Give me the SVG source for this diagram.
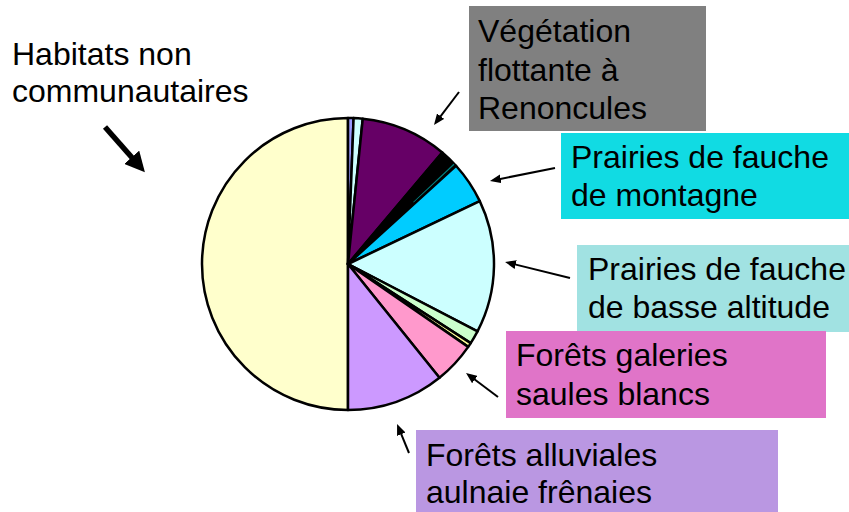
<svg xmlns="http://www.w3.org/2000/svg" width="849" height="512" viewBox="0 0 849 512">
<style>
.lbl{font-family:"Liberation Sans",Arial,sans-serif;font-size:32px;fill:#000}
.s{stroke:#000;stroke-width:2.5;stroke-linejoin:round}
.ar{stroke:#000;stroke-width:2;fill:none}
</style>
<defs>
<marker id="ah" markerUnits="userSpaceOnUse" markerWidth="12" markerHeight="9" refX="3" refY="4.5" orient="auto">
<path d="M0,0 L11,4.5 L0,9 z" fill="#000"/>
</marker>
<marker id="bh" markerUnits="userSpaceOnUse" markerWidth="21" markerHeight="20" refX="5" refY="10" orient="auto">
<path d="M0,0 L20,10 L0,20 z" fill="#000"/>
</marker>
</defs>
<rect width="849" height="512" fill="#fff"/>
<g id="pie">
<path class="s" fill="#FFFFCC" d="M348,264 L348,410 A146,146 0 0 1 348,118 Z"/>
<path class="s" fill="#9999FF" d="M348,264 L348,118 A146,146 0 0 1 353.60,118.11 Z"/>
<path class="s" fill="#CCFFFF" d="M348,264 L353.60,118.11 A146,146 0 0 1 362.75,118.75 Z"/>
<path class="s" fill="#660066" d="M348,264 L362.75,118.75 A146,146 0 0 1 442.24,152.49 Z"/>
<path class="s" fill="#000000" d="M348,264 L442.24,152.49 A146,146 0 0 1 455.99,165.74 Z"/>
<line x1="413.55" y1="202.33" x2="454.0" y2="164.3" stroke="#008080" stroke-width="1.2"/>
<path class="s" fill="#00CCFF" d="M348,264 L455.99,165.74 A146,146 0 0 1 479.78,201.15 Z"/>
<path class="s" fill="#CCFFFF" d="M348,264 L479.78,201.15 A146,146 0 0 1 477.50,331.42 Z"/>
<path class="s" fill="#CCFFCC" d="M348,264 L477.50,331.42 A146,146 0 0 1 470.70,343.13 Z"/>
<path class="s" fill="#FFFF99" d="M348,264 L470.70,343.13 A146,146 0 0 1 468.18,346.90 Z"/>
<path class="s" fill="#FF99CC" d="M348,264 L468.18,346.90 A146,146 0 0 1 439.48,377.78 Z"/>
<path class="s" fill="#CC99FF" d="M348,264 L439.48,377.78 A146,146 0 0 1 348,410 Z"/>
</g>
<g id="habitats">
<text class="lbl" x="12" y="65">Habitats non</text>
<text class="lbl" x="12" y="102">communautaires</text>
</g>
<g id="vegetation">
<rect x="469" y="6" width="237" height="125" fill="#808080"/>
<text class="lbl" x="478" y="42">Végétation</text>
<text class="lbl" x="478" y="81">flottante à</text>
<text class="lbl" x="478" y="119">Renoncules</text>
</g>
<g id="montagne">
<rect x="561" y="133" width="288" height="86" fill="#11DBE3"/>
<text class="lbl" x="571" y="168">Prairies de fauche</text>
<text class="lbl" x="571" y="206">de montagne</text>
</g>
<g id="basse">
<rect x="577" y="245" width="272" height="87" fill="#A1E2E2"/>
<text class="lbl" x="588" y="280">Prairies de fauche</text>
<text class="lbl" x="588" y="318">de basse altitude</text>
</g>
<g id="galeries">
<rect x="506" y="331" width="320" height="87" fill="#E074C8"/>
<text class="lbl" x="516" y="366">Forêts galeries</text>
<text class="lbl" x="516" y="405">saules blancs</text>
</g>
<g id="alluviales">
<rect x="416" y="430" width="362" height="82" fill="#BA97E2"/>
<text class="lbl" x="426" y="466">Forêts alluviales</text>
<text class="lbl" x="426" y="503">aulnaie frênaies</text>
</g>
<g id="connectors">
<line x1="105" y1="127" x2="135" y2="161" stroke="#000" stroke-width="5.5" marker-end="url(#bh)"/>
<line class="ar" x1="459" y1="92" x2="438.8" y2="118.6" marker-end="url(#ah)"/>
<line class="ar" x1="555" y1="168" x2="497.8" y2="179.4" marker-end="url(#ah)"/>
<line class="ar" x1="570" y1="278" x2="512.8" y2="263.9" marker-end="url(#ah)"/>
<line class="ar" x1="498" y1="397" x2="472.4" y2="377.8" marker-end="url(#ah)"/>
<line class="ar" x1="409" y1="453" x2="400.1" y2="431.4" marker-end="url(#ah)"/>
</g>
</svg>
